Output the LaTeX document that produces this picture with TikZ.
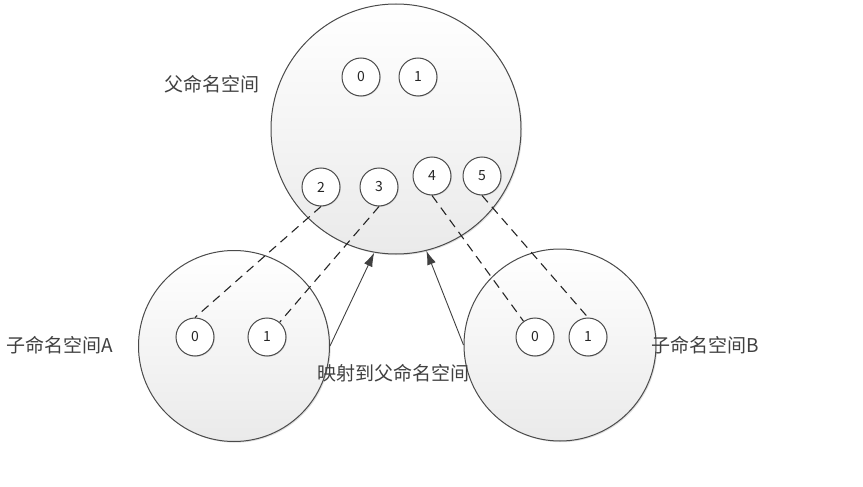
\documentclass[tikz,border=0pt]{standalone}
\usepackage{fontspec}
\setmainfont{Noto Sans CJK SC}
\usetikzlibrary{arrows.meta,shadows}
\definecolor{ringGray}{HTML}{4A4A4A}
\definecolor{fillGray}{HTML}{EAEAEA}

\begin{document}
\begin{tikzpicture}[x=1pt, y=-1pt,
    spaceBox/.style={circle, draw=ringGray, top color=white, bottom color=fillGray, line width=1pt, inner sep=0pt,
        drop shadow={shadow xshift=1.2pt, shadow yshift=-1.2pt, opacity=0.25, fill=black!50}},
    slotBox/.style={circle, draw=ringGray, fill=white, line width=1pt, minimum size=38pt, inner sep=0pt,
        font=\fontsize{14}{16}\selectfont, text=black!85,
        drop shadow={shadow xshift=0.8pt, shadow yshift=-0.8pt, opacity=0.25, fill=black!50}},
    labelText/.style={font=\fontsize{19}{22}\selectfont, text=black!75, inner sep=0pt},
    mapLine/.style={dash pattern=on 9pt off 6pt, draw=black!85, line width=1.1pt},
    arrowStyle/.style={-{Latex[length=14pt, width=9pt]}, draw=black!75, line width=0.9pt}
]
    \useasboundingbox (0,0) rectangle (863,487);

    % namespaces
    \node[spaceBox, minimum size=250pt] (parent) at (396,129) {};
    \node[spaceBox, minimum size=191pt] (childA) at (234,346) {};
    \node[spaceBox, minimum size=192pt] (childB) at (560,345) {};

    \node[labelText] (parentLabel) at (212,84) {父命名空间};
    \node[labelText] (childALabel) at (60,345) {子命名空间A};
    \node[labelText] (childBLabel) at (705,345) {子命名空间B};

    % slots of the parent
    \node[slotBox] (p0) at (361,77) {0};
    \node[slotBox] (p1) at (418,77) {1};
    \node[slotBox] (p2) at (321,187) {2};
    \node[slotBox] (p3) at (379,187) {3};
    \node[slotBox] (p4) at (432,176) {4};
    \node[slotBox] (p5) at (482,176) {5};

    % slots of the children
    \node[slotBox] (a0) at (195,337) {0};
    \node[slotBox] (a1) at (267,337) {1};
    \node[slotBox] (b0) at (535,337) {0};
    \node[slotBox] (b1) at (588,337) {1};

    \draw[mapLine] (p2.south) -- (a0.north);
    \draw[mapLine] (p3.south) -- (a1);
    \draw[mapLine] (p4.south) -- (b0);
    \draw[mapLine] (p5.south) -- (b1.north);

    \draw[arrowStyle] (childA.east) -- (parent.260);
    \draw[arrowStyle] (childB.west) -- (parent.284);
    \node[labelText] (mapLabel) at (393,373) {映射到父命名空间};
\end{tikzpicture}
\end{document}
